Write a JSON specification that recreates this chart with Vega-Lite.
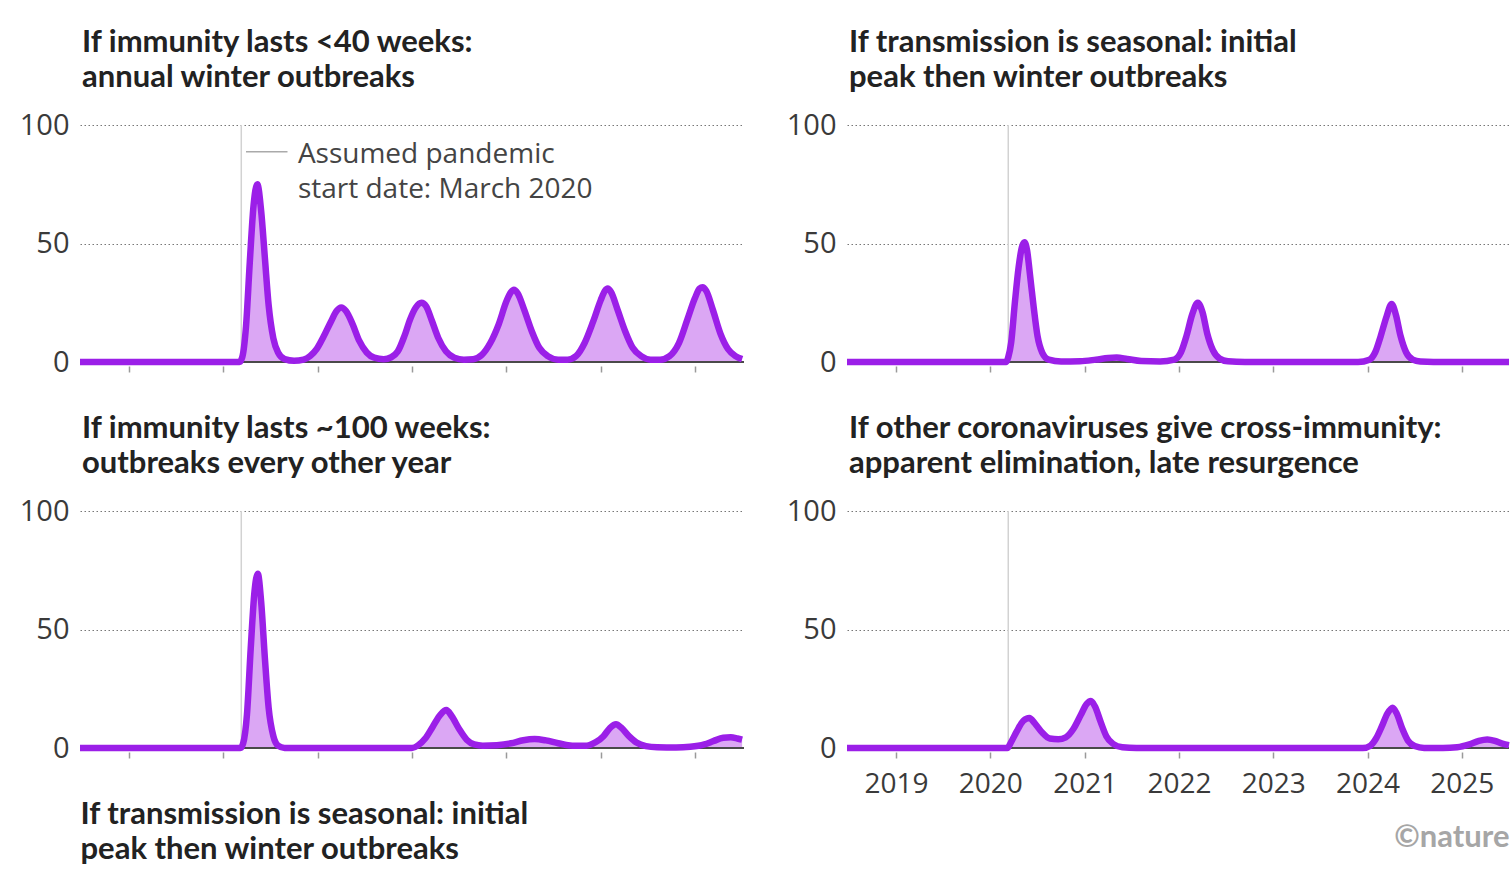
{
  "$schema": "https://vega.github.io/schema/vega-lite/v6.json",
  "background": "white",
  "padding": {"left": 19, "top": 27, "right": 0, "bottom": 0},
  "columns": 2,
  "spacing": {"row": 149, "column": 103},
  "bounds": "flush",
  "config": {
    "font": "Open Sans",
    "view": {"stroke": null},
    "axisX": {"domain": false, "grid": false, "ticks": true, "tickSize": 6, "tickWidth": 1.5, "tickColor": "#9a9a9a", "offset": 4, "labels": false, "labelFontSize": 28, "labelColor": "#3a3a3a", "labelPadding": 12, "labelFlush": false, "minExtent": 40, "maxExtent": 40},
    "axisY": {"domain": false, "ticks": false, "grid": true, "gridColor": "#777777", "gridDash": [1.5, 2.5], "gridWidth": 1, "labelFontSize": 29, "labelColor": "#3a3a3a", "labelPadding": 11, "labelFlush": false},
    "title": {"anchor": "start", "frame": "group", "font": "Lato", "fontSize": 31, "fontWeight": "bold", "color": "#222222", "lineHeight": 35, "offset": 17, "dx": 2}
  },
  "datasets": {
    "start": [{"t": 2020.19}],
    "seg": [{"t": 2020.24, "t2": 2020.68, "v": 88.7}],
    "ann": [{"t": 2020.79, "v": 84, "label": "Assumed pandemic"}, {"t": 2020.79, "v": 69.2, "label": "start date: March 2020"}],
    "s1": [
      {"t": 2018.48, "v": 0}, {"t": 2020.17, "v": 0}, {"t": 2020.2, "v": 2}, {"t": 2020.24, "v": 15}, {"t": 2020.28, "v": 42}, {"t": 2020.32, "v": 66}, {"t": 2020.36, "v": 75}, {"t": 2020.4, "v": 64}, {"t": 2020.44, "v": 44}, {"t": 2020.48, "v": 24}, {"t": 2020.53, "v": 10}, {"t": 2020.58, "v": 4}, {"t": 2020.65, "v": 1.2}, {"t": 2020.75, "v": 0.5}, {"t": 2020.85, "v": 1}, {"t": 2020.92, "v": 2.5}, {"t": 2020.99, "v": 5.5}, {"t": 2021.06, "v": 10.5}, {"t": 2021.14, "v": 17}, {"t": 2021.2, "v": 21.5}, {"t": 2021.25, "v": 23}, {"t": 2021.3, "v": 21.5}, {"t": 2021.37, "v": 16}, {"t": 2021.44, "v": 9}, {"t": 2021.52, "v": 4}, {"t": 2021.6, "v": 1.8}, {"t": 2021.7, "v": 1.2}, {"t": 2021.78, "v": 2}, {"t": 2021.85, "v": 4.5}, {"t": 2021.92, "v": 11}, {"t": 2021.98, "v": 18}, {"t": 2022.04, "v": 23}, {"t": 2022.1, "v": 25}, {"t": 2022.15, "v": 23.5}, {"t": 2022.21, "v": 17.5}, {"t": 2022.28, "v": 10}, {"t": 2022.36, "v": 4.5}, {"t": 2022.45, "v": 1.8}, {"t": 2022.55, "v": 1}, {"t": 2022.65, "v": 1.2}, {"t": 2022.74, "v": 3}, {"t": 2022.83, "v": 8}, {"t": 2022.92, "v": 16}, {"t": 2023.0, "v": 25.5}, {"t": 2023.05, "v": 29.5}, {"t": 2023.08, "v": 30.5}, {"t": 2023.12, "v": 29}, {"t": 2023.19, "v": 22}, {"t": 2023.27, "v": 13}, {"t": 2023.35, "v": 6}, {"t": 2023.44, "v": 2.5}, {"t": 2023.55, "v": 1}, {"t": 2023.65, "v": 1}, {"t": 2023.74, "v": 2.5}, {"t": 2023.83, "v": 8}, {"t": 2023.92, "v": 17}, {"t": 2024.0, "v": 26}, {"t": 2024.045, "v": 30}, {"t": 2024.075, "v": 31}, {"t": 2024.11, "v": 29.5}, {"t": 2024.18, "v": 22}, {"t": 2024.26, "v": 13}, {"t": 2024.34, "v": 6}, {"t": 2024.43, "v": 2.5}, {"t": 2024.53, "v": 1}, {"t": 2024.63, "v": 1}, {"t": 2024.73, "v": 2.5}, {"t": 2024.83, "v": 8}, {"t": 2024.92, "v": 18}, {"t": 2025.0, "v": 27}, {"t": 2025.05, "v": 31}, {"t": 2025.08, "v": 31.5}, {"t": 2025.12, "v": 30}, {"t": 2025.19, "v": 22}, {"t": 2025.27, "v": 12}, {"t": 2025.35, "v": 5.5}, {"t": 2025.43, "v": 2.5}, {"t": 2025.5, "v": 1.2}
    ],
    "s2": [
      {"t": 2018.48, "v": 0}, {"t": 2020.17, "v": 0}, {"t": 2020.19, "v": 2}, {"t": 2020.22, "v": 8}, {"t": 2020.26, "v": 25}, {"t": 2020.3, "v": 40}, {"t": 2020.335, "v": 48.5}, {"t": 2020.363, "v": 50.5}, {"t": 2020.39, "v": 47}, {"t": 2020.42, "v": 37}, {"t": 2020.46, "v": 23}, {"t": 2020.5, "v": 11}, {"t": 2020.55, "v": 4}, {"t": 2020.62, "v": 1}, {"t": 2020.75, "v": 0.2}, {"t": 2020.95, "v": 0.3}, {"t": 2021.12, "v": 1}, {"t": 2021.25, "v": 1.7}, {"t": 2021.34, "v": 1.9}, {"t": 2021.45, "v": 1.3}, {"t": 2021.6, "v": 0.4}, {"t": 2021.8, "v": 0.2}, {"t": 2021.95, "v": 1}, {"t": 2022.02, "v": 4}, {"t": 2022.08, "v": 11}, {"t": 2022.14, "v": 20}, {"t": 2022.2, "v": 25}, {"t": 2022.25, "v": 21}, {"t": 2022.3, "v": 12}, {"t": 2022.36, "v": 5}, {"t": 2022.43, "v": 1.5}, {"t": 2022.52, "v": 0.3}, {"t": 2022.7, "v": 0}, {"t": 2023.9, "v": 0}, {"t": 2024.02, "v": 1}, {"t": 2024.08, "v": 4}, {"t": 2024.14, "v": 11}, {"t": 2024.2, "v": 19}, {"t": 2024.255, "v": 24.5}, {"t": 2024.3, "v": 20}, {"t": 2024.35, "v": 11}, {"t": 2024.41, "v": 4}, {"t": 2024.48, "v": 1}, {"t": 2024.56, "v": 0.2}, {"t": 2024.7, "v": 0}, {"t": 2025.5, "v": 0}
    ],
    "s3": [
      {"t": 2018.48, "v": 0}, {"t": 2020.18, "v": 0}, {"t": 2020.21, "v": 2}, {"t": 2020.25, "v": 14}, {"t": 2020.29, "v": 42}, {"t": 2020.33, "v": 66}, {"t": 2020.365, "v": 73.5}, {"t": 2020.4, "v": 62}, {"t": 2020.44, "v": 38}, {"t": 2020.48, "v": 17}, {"t": 2020.53, "v": 5}, {"t": 2020.58, "v": 1}, {"t": 2020.65, "v": 0}, {"t": 2022.0, "v": 0}, {"t": 2022.06, "v": 1}, {"t": 2022.14, "v": 4}, {"t": 2022.22, "v": 9}, {"t": 2022.3, "v": 14}, {"t": 2022.364, "v": 16}, {"t": 2022.42, "v": 13.5}, {"t": 2022.5, "v": 8}, {"t": 2022.58, "v": 3.5}, {"t": 2022.66, "v": 1.5}, {"t": 2022.75, "v": 1}, {"t": 2022.9, "v": 1.2}, {"t": 2023.05, "v": 2}, {"t": 2023.18, "v": 3.3}, {"t": 2023.3, "v": 3.8}, {"t": 2023.42, "v": 3.2}, {"t": 2023.55, "v": 2}, {"t": 2023.7, "v": 1}, {"t": 2023.85, "v": 1}, {"t": 2023.95, "v": 2.5}, {"t": 2024.03, "v": 5}, {"t": 2024.1, "v": 8.5}, {"t": 2024.163, "v": 10}, {"t": 2024.22, "v": 8.5}, {"t": 2024.3, "v": 5}, {"t": 2024.38, "v": 2.3}, {"t": 2024.48, "v": 0.8}, {"t": 2024.6, "v": 0.3}, {"t": 2024.8, "v": 0.2}, {"t": 2024.95, "v": 0.5}, {"t": 2025.1, "v": 1.5}, {"t": 2025.2, "v": 3}, {"t": 2025.3, "v": 4.3}, {"t": 2025.38, "v": 4.5}, {"t": 2025.45, "v": 4}, {"t": 2025.5, "v": 3.5}
    ],
    "s4": [
      {"t": 2018.48, "v": 0}, {"t": 2020.18, "v": 0}, {"t": 2020.22, "v": 2.5}, {"t": 2020.28, "v": 7}, {"t": 2020.35, "v": 11.5}, {"t": 2020.414, "v": 12.7}, {"t": 2020.47, "v": 10.5}, {"t": 2020.55, "v": 6.5}, {"t": 2020.63, "v": 4}, {"t": 2020.72, "v": 3.7}, {"t": 2020.8, "v": 4.5}, {"t": 2020.88, "v": 8}, {"t": 2020.96, "v": 14}, {"t": 2021.02, "v": 18.5}, {"t": 2021.067, "v": 19.8}, {"t": 2021.11, "v": 17.5}, {"t": 2021.17, "v": 11}, {"t": 2021.23, "v": 5}, {"t": 2021.3, "v": 1.8}, {"t": 2021.4, "v": 0.3}, {"t": 2021.55, "v": 0}, {"t": 2023.95, "v": 0}, {"t": 2024.03, "v": 1}, {"t": 2024.09, "v": 4}, {"t": 2024.15, "v": 9}, {"t": 2024.21, "v": 14.5}, {"t": 2024.266, "v": 17}, {"t": 2024.31, "v": 14.5}, {"t": 2024.37, "v": 8}, {"t": 2024.43, "v": 3}, {"t": 2024.5, "v": 0.8}, {"t": 2024.6, "v": 0}, {"t": 2024.8, "v": 0}, {"t": 2024.95, "v": 0.3}, {"t": 2025.08, "v": 1.5}, {"t": 2025.18, "v": 3}, {"t": 2025.27, "v": 3.6}, {"t": 2025.35, "v": 3}, {"t": 2025.43, "v": 1.8}, {"t": 2025.5, "v": 1.2}
    ]
  },
  "concat": [
    {
      "width": 664, "height": 237,
      "title": {"text": ["If immunity lasts <40 weeks:", "annual winter outbreaks"]},
      "layer": [
        {"data": {"name": "start"}, "mark": {"type": "rule", "color": "#d2d2d2", "strokeWidth": 1.5},
         "encoding": {"x": {"field": "t", "type": "quantitative", "scale": {"domain": [2018.48, 2025.52]}}, "y": {"datum": 0, "type": "quantitative", "scale": {"domain": [0, 100]}}, "y2": {"datum": 100}}},
        {"data": {"name": "s1"}, "mark": {"type": "area", "color": "#dba7f4", "interpolate": "monotone"},
         "encoding": {"x": {"field": "t", "type": "quantitative", "scale": {"domain": [2018.48, 2025.52]}, "axis": {"values": [2019, 2020, 2021, 2022, 2023, 2024, 2025], "format": "d", "title": null}},
                      "y": {"field": "v", "type": "quantitative", "scale": {"domain": [0, 100]}, "axis": {"values": [0, 50, 100], "title": null}}}},
        {"data": {"values": [{}]}, "mark": {"type": "rule", "color": "#4a4a4a", "strokeWidth": 2},
         "encoding": {"y": {"datum": 0, "type": "quantitative", "scale": {"domain": [0, 100]}}}},
        {"data": {"name": "s1"}, "mark": {"type": "line", "color": "#9b1fe8", "strokeWidth": 6.5, "interpolate": "monotone", "strokeJoin": "round"},
         "encoding": {"x": {"field": "t", "type": "quantitative", "scale": {"domain": [2018.48, 2025.52]}}, "y": {"field": "v", "type": "quantitative", "scale": {"domain": [0, 100]}}}},
        {"data": {"name": "seg"}, "mark": {"type": "rule", "color": "#aaaaaa", "strokeWidth": 1.5},
         "encoding": {"x": {"field": "t", "type": "quantitative", "scale": {"domain": [2018.48, 2025.52]}}, "x2": {"field": "t2"}, "y": {"field": "v", "type": "quantitative", "scale": {"domain": [0, 100]}}}},
        {"data": {"name": "ann"}, "mark": {"type": "text", "align": "left", "baseline": "alphabetic", "fontSize": 28, "color": "#444444"},
         "encoding": {"x": {"field": "t", "type": "quantitative", "scale": {"domain": [2018.48, 2025.52]}}, "y": {"field": "v", "type": "quantitative", "scale": {"domain": [0, 100]}}, "text": {"field": "label"}}}
      ]
    },
    {
      "width": 662, "height": 237,
      "title": {"text": ["If transmission is seasonal: initial", "peak then winter outbreaks"]},
      "layer": [
        {"data": {"name": "start"}, "mark": {"type": "rule", "color": "#d2d2d2", "strokeWidth": 1.5},
         "encoding": {"x": {"field": "t", "type": "quantitative", "scale": {"domain": [2018.48, 2025.5]}}, "y": {"datum": 0, "type": "quantitative", "scale": {"domain": [0, 100]}}, "y2": {"datum": 100}}},
        {"data": {"name": "s2"}, "mark": {"type": "area", "color": "#dba7f4", "interpolate": "monotone"},
         "encoding": {"x": {"field": "t", "type": "quantitative", "scale": {"domain": [2018.48, 2025.5]}, "axis": {"values": [2019, 2020, 2021, 2022, 2023, 2024, 2025], "format": "d", "title": null}},
                      "y": {"field": "v", "type": "quantitative", "scale": {"domain": [0, 100]}, "axis": {"values": [0, 50, 100], "title": null}}}},
        {"data": {"values": [{}]}, "mark": {"type": "rule", "color": "#4a4a4a", "strokeWidth": 2},
         "encoding": {"y": {"datum": 0, "type": "quantitative", "scale": {"domain": [0, 100]}}}},
        {"data": {"name": "s2"}, "mark": {"type": "line", "color": "#9b1fe8", "strokeWidth": 6.5, "interpolate": "monotone", "strokeJoin": "round"},
         "encoding": {"x": {"field": "t", "type": "quantitative", "scale": {"domain": [2018.48, 2025.5]}}, "y": {"field": "v", "type": "quantitative", "scale": {"domain": [0, 100]}}}}
      ]
    },
    {
      "width": 664, "height": 237,
      "title": {"text": ["If immunity lasts ~100 weeks:", "outbreaks every other year"]},
      "layer": [
        {"data": {"name": "start"}, "mark": {"type": "rule", "color": "#d2d2d2", "strokeWidth": 1.5},
         "encoding": {"x": {"field": "t", "type": "quantitative", "scale": {"domain": [2018.48, 2025.52]}}, "y": {"datum": 0, "type": "quantitative", "scale": {"domain": [0, 100]}}, "y2": {"datum": 100}}},
        {"data": {"name": "s3"}, "mark": {"type": "area", "color": "#dba7f4", "interpolate": "monotone"},
         "encoding": {"x": {"field": "t", "type": "quantitative", "scale": {"domain": [2018.48, 2025.52]}, "axis": {"values": [2019, 2020, 2021, 2022, 2023, 2024, 2025], "format": "d", "title": ["If transmission is seasonal: initial", "peak then winter outbreaks"], "titleAnchor": "start", "titleAlign": "left", "titleBaseline": "top", "titleFont": "Lato", "titleFontSize": 31, "titleFontWeight": "bold", "titleColor": "#222222", "titleLineHeight": 35, "titlePadding": 7}},
                      "y": {"field": "v", "type": "quantitative", "scale": {"domain": [0, 100]}, "axis": {"values": [0, 50, 100], "title": null}}}},
        {"data": {"values": [{}]}, "mark": {"type": "rule", "color": "#4a4a4a", "strokeWidth": 2},
         "encoding": {"y": {"datum": 0, "type": "quantitative", "scale": {"domain": [0, 100]}}}},
        {"data": {"name": "s3"}, "mark": {"type": "line", "color": "#9b1fe8", "strokeWidth": 6.5, "interpolate": "monotone", "strokeJoin": "round"},
         "encoding": {"x": {"field": "t", "type": "quantitative", "scale": {"domain": [2018.48, 2025.52]}}, "y": {"field": "v", "type": "quantitative", "scale": {"domain": [0, 100]}}}}
      ]
    },
    {
      "width": 662, "height": 237,
      "title": {"text": ["If other coronaviruses give cross-immunity:", "apparent elimination, late resurgence"]},
      "layer": [
        {"data": {"name": "start"}, "mark": {"type": "rule", "color": "#d2d2d2", "strokeWidth": 1.5},
         "encoding": {"x": {"field": "t", "type": "quantitative", "scale": {"domain": [2018.48, 2025.5]}}, "y": {"datum": 0, "type": "quantitative", "scale": {"domain": [0, 100]}}, "y2": {"datum": 100}}},
        {"data": {"name": "s4"}, "mark": {"type": "area", "color": "#dba7f4", "interpolate": "monotone"},
         "encoding": {"x": {"field": "t", "type": "quantitative", "scale": {"domain": [2018.48, 2025.5]}, "axis": {"values": [2019, 2020, 2021, 2022, 2023, 2024, 2025], "format": "d", "labels": true, "title": "©nature", "titleAnchor": "end", "titleAlign": "right", "titleBaseline": "top", "titleFont": "Lato", "titleFontSize": 31, "titleFontWeight": "bold", "titleColor": "#a6a6a6", "titlePadding": 30}},
                      "y": {"field": "v", "type": "quantitative", "scale": {"domain": [0, 100]}, "axis": {"values": [0, 50, 100], "title": null}}}},
        {"data": {"values": [{}]}, "mark": {"type": "rule", "color": "#4a4a4a", "strokeWidth": 2},
         "encoding": {"y": {"datum": 0, "type": "quantitative", "scale": {"domain": [0, 100]}}}},
        {"data": {"name": "s4"}, "mark": {"type": "line", "color": "#9b1fe8", "strokeWidth": 6.5, "interpolate": "monotone", "strokeJoin": "round"},
         "encoding": {"x": {"field": "t", "type": "quantitative", "scale": {"domain": [2018.48, 2025.5]}}, "y": {"field": "v", "type": "quantitative", "scale": {"domain": [0, 100]}}}}
      ]
    }
  ]
}
